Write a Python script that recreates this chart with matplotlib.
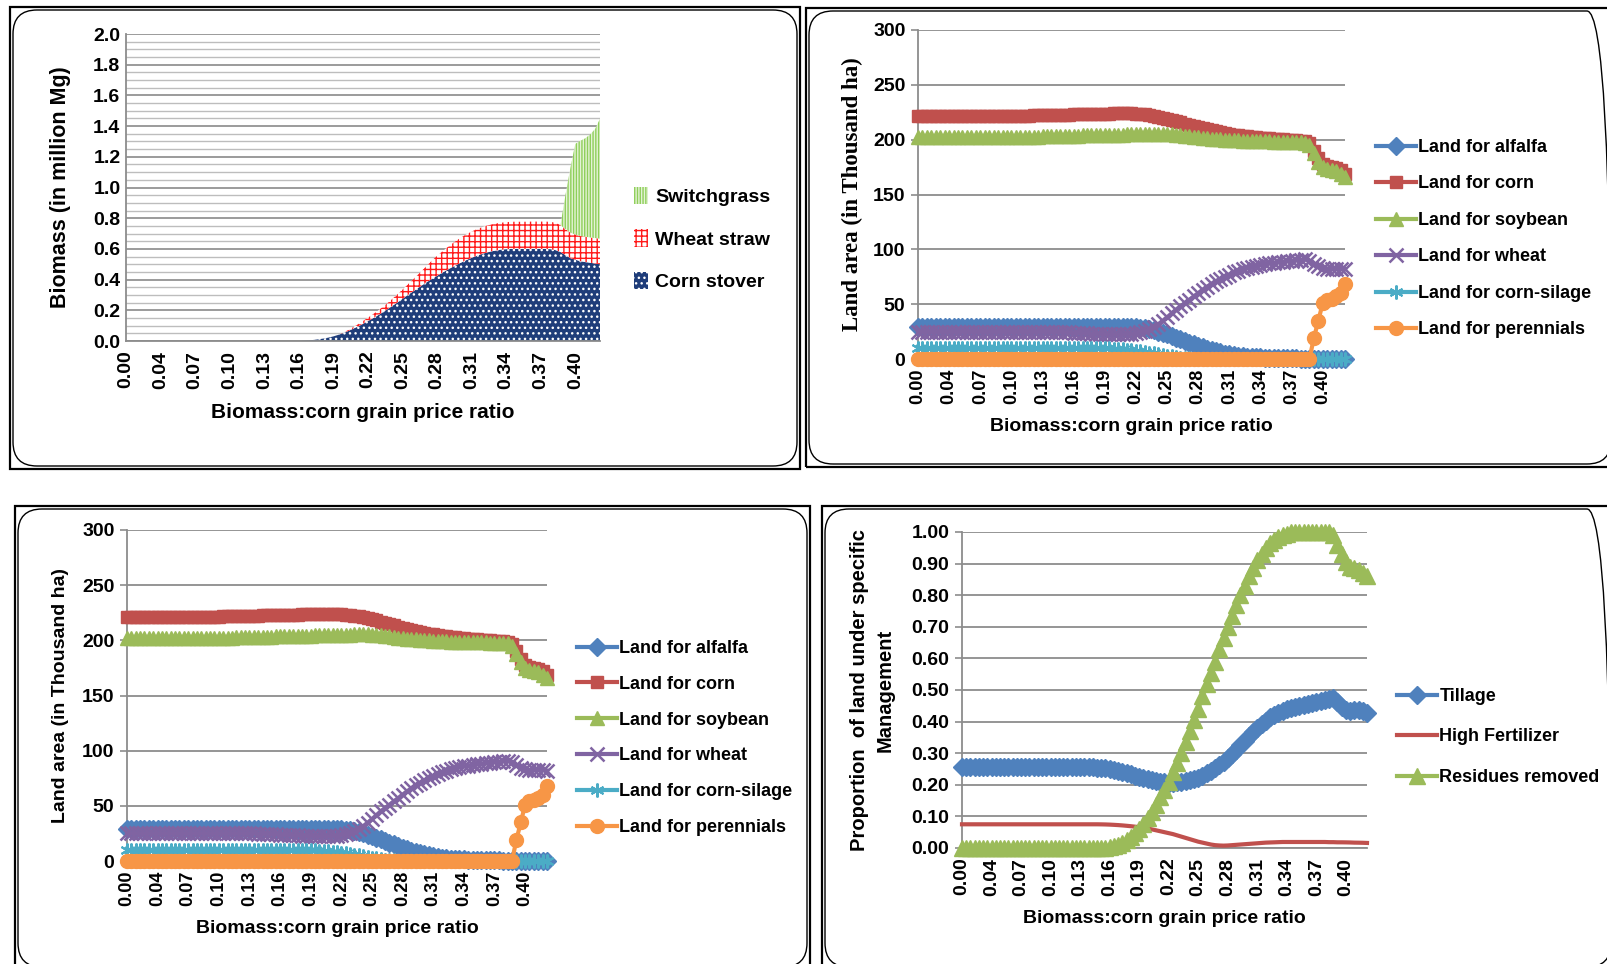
import numpy as np
import matplotlib
matplotlib.use("Agg")
import matplotlib.pyplot as plt
from matplotlib.patches import FancyBboxPatch, Rectangle
from matplotlib.transforms import IdentityTransform
from matplotlib import font_manager as fm

# ---------------- data ----------------
tick_labels = ["0.00", "0.04", "0.07", "0.10", "0.13", "0.16", "0.19",
               "0.22", "0.25", "0.28", "0.31", "0.34", "0.37", "0.40"]

# Panel 1: biomass (million Mg), stacked
corn_stover = [0.0] * 36 + [
    0.002, 0.004, 0.007, 0.011,
    0.016, 0.022, 0.030, 0.040, 0.052, 0.065, 0.080, 0.095, 0.112, 0.130,
    0.148, 0.167, 0.187, 0.208, 0.230, 0.252, 0.275, 0.298, 0.320, 0.342,
    0.364, 0.385, 0.405, 0.425, 0.444, 0.462, 0.480, 0.497, 0.513, 0.528,
    0.542, 0.555, 0.566, 0.576, 0.584, 0.590, 0.595, 0.598, 0.600, 0.600,
    0.600, 0.600, 0.600, 0.600, 0.600, 0.600, 0.598, 0.592, 0.580, 0.560,
    0.540, 0.530, 0.520, 0.515, 0.510, 0.505, 0.500]
wheat_straw = [0.0] * 44 + [
    0.003, 0.006, 0.010, 0.014, 0.018, 0.022,
    0.026, 0.030, 0.035, 0.040, 0.046, 0.053, 0.060, 0.068, 0.077, 0.086,
    0.096, 0.108, 0.120, 0.130, 0.138, 0.146, 0.153, 0.159, 0.164, 0.168,
    0.171, 0.173, 0.174, 0.175, 0.175, 0.176, 0.176, 0.176, 0.177, 0.177,
    0.177, 0.177, 0.178, 0.178, 0.178, 0.178, 0.178, 0.178, 0.175, 0.170,
    0.166, 0.164, 0.164, 0.165, 0.165, 0.166, 0.167]
switchgrass = [0.0] * 89 + [0.22, 0.42, 0.59, 0.62, 0.64, 0.67, 0.71, 0.78]

# Panels 2 & 3: land area (thousand ha)
land_alfalfa = [29.0] * 50 + [
    28.5, 28.0, 27.0, 26.0, 25.0, 24.0, 22.5, 21.0, 19.5, 18.0,
    16.5, 15.0, 13.5, 12.0, 10.5, 9.0, 8.0, 7.0, 6.0, 5.0,
    4.3, 3.7, 3.1, 2.6, 2.2, 1.9, 1.6, 1.4, 1.2, 1.0,
    0.9, 0.8, 0.7, 0.6, 0.5, 0.5, 0.4, 0.4, 0.3, 0.3,
    0.3, 0.3, 0.3, 0.3, 0.3, 0.3, 0.3]
land_corn = [221.5] * 20 + [
    221.5, 221.6, 221.7, 221.8, 221.9, 222.0, 222.1, 222.2, 222.3, 222.4,
    222.5, 222.6, 222.7, 222.8, 222.9, 223.0, 223.1, 223.2, 223.3, 223.4,
    223.5, 223.6, 223.7, 223.8, 223.9, 224.0, 224.0, 224.0, 223.9, 223.7,
    223.4, 223.0, 222.4, 221.7, 220.9, 220.0, 219.0, 218.0, 216.9, 215.8,
    214.7, 213.6, 212.5, 211.4, 210.4, 209.4, 208.5, 207.6, 206.8, 206.0,
    205.3, 204.7, 204.1, 203.6, 203.1, 202.7, 202.3, 201.9, 201.6, 201.3,
    201.0, 200.7, 200.4, 200.1, 199.8, 199.5, 199.2, 198.8, 197.0, 190.0,
    183.0, 178.0, 176.0, 175.0, 174.0, 172.0, 169.0]
land_soybean = [202.0] * 20 + [
    202.1, 202.2, 202.3, 202.4, 202.5, 202.6, 202.7, 202.8, 202.9, 203.0,
    203.1, 203.2, 203.3, 203.4, 203.5, 203.6, 203.7, 203.8, 203.9, 204.0,
    204.1, 204.2, 204.3, 204.4, 204.5, 204.6, 204.7, 204.8, 204.9, 205.0,
    205.1, 205.2, 205.3, 205.4, 205.4, 205.3, 205.1, 204.8, 204.4, 204.0,
    203.5, 203.0, 202.5, 202.0, 201.6, 201.2, 200.8, 200.5, 200.2, 199.9,
    199.7, 199.5, 199.3, 199.1, 198.9, 198.8, 198.7, 198.6, 198.5, 198.4,
    198.3, 198.2, 198.1, 198.0, 197.9, 197.8, 197.6, 197.3, 195.0, 188.0,
    180.0, 175.0, 173.0, 172.0, 171.0, 169.0, 166.0]
land_wheat = [25.0] * 30 + [
    24.9, 24.8, 24.6, 24.4, 24.2, 24.0, 23.8, 23.6, 23.4, 23.2,
    23.0, 22.8, 22.6, 22.5, 22.4, 22.4, 22.5, 22.7, 23.0, 23.5,
    24.3, 25.5, 27.0, 29.0, 31.5, 34.5, 38.0, 41.5, 45.0, 48.0,
    51.0, 54.0, 57.0, 60.0, 63.0, 66.0, 68.5, 71.0, 73.0, 75.0,
    77.0, 79.0, 80.5, 82.0, 83.0, 84.0, 85.0, 85.8, 86.5, 87.1,
    87.7, 88.2, 88.7, 89.2, 89.6, 90.0, 90.4, 90.8, 89.5, 87.0,
    84.5, 83.0, 82.5, 82.5, 82.5, 82.5, 82.0]
land_corn_silage = [10.0] * 40 + [
    10.0, 9.9, 9.8, 9.6, 9.4, 9.1, 8.8, 8.4, 8.0, 7.5,
    7.0, 6.4, 5.8, 5.1, 4.4, 3.7, 3.0, 2.4, 1.8, 1.3,
    0.9, 0.6, 0.4, 0.2, 0.1] + [0.0] * 32
land_perennials = [0.0] * 89 + [19.0, 35.0, 51.0, 54.0, 55.0, 57.0, 60.0, 68.0]

# Panel 4: proportion of land under management
tillage = [0.255] * 32 + [
    0.254, 0.253, 0.252, 0.250, 0.248, 0.245, 0.241, 0.237,
    0.233, 0.229, 0.225, 0.221, 0.217, 0.214, 0.211, 0.209, 0.208, 0.207,
    0.207, 0.208, 0.209, 0.211, 0.214, 0.218, 0.223, 0.229, 0.236, 0.244,
    0.252, 0.262, 0.273, 0.285, 0.298, 0.311, 0.325, 0.339, 0.353, 0.367,
    0.380, 0.392, 0.403, 0.413, 0.421, 0.428, 0.434, 0.439, 0.443, 0.446,
    0.449, 0.452, 0.455, 0.458, 0.461, 0.464, 0.468, 0.472, 0.476, 0.462,
    0.447, 0.437, 0.435, 0.438, 0.436, 0.432, 0.428]
high_fertilizer = [0.075] * 33 + [
    0.0748, 0.0745, 0.074, 0.0733, 0.0725, 0.0715, 0.0703,
    0.069, 0.0675, 0.066, 0.064, 0.062, 0.059, 0.056, 0.053, 0.050, 0.047,
    0.044, 0.040, 0.036, 0.032, 0.028, 0.024, 0.020, 0.017, 0.014, 0.011,
    0.009, 0.008, 0.0075, 0.008, 0.009, 0.010, 0.011, 0.012, 0.013, 0.014,
    0.015, 0.016, 0.017, 0.0175, 0.018, 0.0185, 0.019, 0.019, 0.019, 0.019,
    0.019, 0.019, 0.019, 0.019, 0.019, 0.019, 0.019, 0.0185, 0.0185, 0.018,
    0.018, 0.0178, 0.0175, 0.017, 0.0168, 0.0165, 0.016]
residues_removed = [0.0] * 35 + [
    0.002, 0.005, 0.010, 0.016, 0.024,
    0.034, 0.046, 0.060, 0.076, 0.094, 0.114, 0.136, 0.160, 0.185, 0.210,
    0.240, 0.270, 0.300, 0.335, 0.370, 0.405, 0.440, 0.480, 0.520, 0.555,
    0.590, 0.630, 0.665, 0.700, 0.735, 0.770, 0.800, 0.830, 0.860, 0.885,
    0.910, 0.930, 0.950, 0.965, 0.975, 0.985, 0.990, 0.995, 1.0, 1.0,
    1.0, 1.0, 1.0, 1.0, 1.0, 1.0, 1.0, 1.0, 0.990, 0.960,
    0.930, 0.905, 0.890, 0.885, 0.880, 0.870, 0.860]

# ---------------- fonts ----------------
names = {f.name for f in fm.fontManager.ttflist}
NARROW = "Liberation Sans Narrow" if "Liberation Sans Narrow" in names else "Liberation Sans"
ARIAL = "Liberation Sans"
SERIF = "Liberation Serif"

W, H = 1608, 964
fig = plt.figure(figsize=(W / 100, H / 100), dpi=100)
fig.patch.set_facecolor("white")


def axes_px(l, r, t, b):
    return fig.add_axes([l / W, 1 - b / H, (r - l) / W, (b - t) / H])


def frame(x0, y0, x1, y1):
    rect = Rectangle((x0, H - y1), x1 - x0, y1 - y0, transform=IdentityTransform(),
                     fill=False, lw=1.6, ec="black")
    rnd = FancyBboxPatch((x0 + 3, H - y1 + 3), x1 - x0 - 6, y1 - y0 - 6,
                         boxstyle="round,pad=0,rounding_size=24",
                         transform=IdentityTransform(), fill=False, lw=1.0, ec="black")
    fig.add_artist(rect)
    fig.add_artist(rnd)


frame(10, 7, 800, 469)
frame(806, 8, 1614, 467)
frame(15, 506, 810, 970)
frame(822, 506, 1614, 970)

GRID = "#8c8c8c"
tick_pos = [7 * k for k in range(len(tick_labels))]


def style_axes(ax, npts, xfs=13, yfs=14):
    ax.set_xlim(0, npts - 1)
    ax.set_xticks(tick_pos)
    ax.set_xticklabels(tick_labels, rotation=90, fontfamily=ARIAL,
                       fontweight="bold", fontsize=xfs)
    ax.tick_params(axis="x", length=0, pad=7)
    ax.tick_params(axis="y", length=5, color=GRID, width=1.2, pad=4)
    for lab in ax.get_yticklabels():
        lab.set_fontfamily(NARROW)
        lab.set_fontweight("bold")
        lab.set_fontsize(yfs)
    for s in ["top", "right"]:
        ax.spines[s].set_visible(False)
    for s in ["left", "bottom"]:
        ax.spines[s].set_color(GRID)
        ax.spines[s].set_linewidth(1.3)
    ax.set_axisbelow(True)


# ---------------- Panel 1 ----------------
ax1 = axes_px(126, 600, 34, 341)
x1 = np.arange(len(corn_stover))
s1 = np.array(corn_stover)
s2 = s1 + np.array(wheat_straw)
s3 = s2 + np.array(switchgrass)
plt.rcParams["hatch.linewidth"] = 1.0
h_st = ax1.fill_between(x1, 0, s1, facecolor="#1F3D7A", edgecolor="white",
                        hatch="...", lw=0, label="Corn stover")
h_ws = ax1.fill_between(x1, s1, s2, facecolor="white", edgecolor="#FF1A1A",
                        hatch="+++", lw=0, label="Wheat straw")
h_sg = ax1.fill_between(x1, s2, s3, facecolor="#E4F3D6", edgecolor="#8FCF5A",
                        hatch="||||||", lw=0, label="Switchgrass")
ax1.set_ylim(0, 2.0)
ax1.set_yticks(np.arange(0, 2.01, 0.2))
ax1.set_yticklabels([f"{v:.1f}" for v in np.arange(0, 2.01, 0.2)])
ax1.set_yticks(np.arange(0, 2.01, 0.05), minor=True)
ax1.tick_params(axis="y", which="minor", length=0)
ax1.grid(axis="y", which="major", color="#8a8a8a", lw=1.2)
ax1.grid(axis="y", which="minor", color="#bdbdbd", lw=1.0)
style_axes(ax1, len(corn_stover), xfs=14, yfs=14)
ax1.tick_params(axis="y", length=0)
ax1.set_ylabel("Biomass (in million Mg)", fontfamily=ARIAL, fontweight="bold",
               fontsize=15.5, labelpad=16)
ax1.set_xlabel("Biomass:corn grain price ratio", fontfamily=NARROW,
               fontweight="bold", fontsize=15, labelpad=10)
ax1.legend([h_sg, h_ws, h_st], ["Switchgrass", "Wheat straw", "Corn stover"],
           loc="upper left", bbox_to_anchor=(634 / W, 1 - 187 / H),
           bbox_transform=fig.transFigure, frameon=False,
           prop={"family": NARROW, "weight": "bold", "size": 14},
           handlelength=0.7, handleheight=1.0, handletextpad=0.4,
           labelspacing=1.18, borderpad=0, borderaxespad=0)

# ---------------- Panels 2 & 3 ----------------
land_series = [
    (land_alfalfa, "Land for alfalfa", "#4F81BD", "D", 9.0, 1.0),
    (land_corn, "Land for corn", "#C0504D", "s", 9.0, 1.0),
    (land_soybean, "Land for soybean", "#9BBB59", "^", 10.5, 1.0),
    (land_wheat, "Land for wheat", "#8064A2", "x", 9.5, 1.8),
    (land_corn_silage, "Land for corn-silage", "#4BACC6", (6, 2, 0), 10.0, 1.5),
    (land_perennials, "Land for perennials", "#F79646", "o", 10.0, 1.0),
]


def land_panel(ax, leg_anchor, spacing):
    xx = np.arange(len(land_corn))
    for vals, lab, col, mk, ms, mew in land_series:
        ax.plot(xx, vals, color=col, lw=3.0, marker=mk, ms=ms, mfc=col, mec=col,
                mew=mew, label=lab, clip_on=False, zorder=3)
    ax.set_ylim(0, 300)
    ax.set_yticks(np.arange(0, 301, 50))
    ax.grid(axis="y", color=GRID, lw=1.3)
    style_axes(ax, len(land_corn), xfs=13, yfs=14)
    ax.set_xlabel("Biomass:corn grain price ratio", fontfamily=NARROW,
                  fontweight="bold", fontsize=14, labelpad=10)
    ax.legend(loc="upper left", bbox_to_anchor=leg_anchor,
              bbox_transform=fig.transFigure, frameon=False,
              prop={"family": NARROW, "weight": "bold", "size": 13},
              handlelength=2.2, handletextpad=0.15, numpoints=1,
              labelspacing=spacing, borderpad=0, borderaxespad=0)


ax2 = axes_px(918, 1345, 30, 359)
land_panel(ax2, (1376 / W, 1 - 139 / H), 1.08)
ax2.set_ylabel("Land area (in Thousand ha)", fontfamily=SERIF, fontweight="bold",
               fontsize=16.5, labelpad=7)

ax3 = axes_px(127, 547, 530, 861)
land_panel(ax3, (577 / W, 1 - 640 / H), 1.04)
ax3.set_ylabel("Land area (in Thousand ha)", fontfamily=ARIAL, fontweight="bold",
               fontsize=14, labelpad=9)

# ---------------- Panel 4 ----------------
ax4 = axes_px(962, 1367, 532, 848)
x4 = np.arange(len(tillage))
ax4.plot(x4, tillage, color="#4F81BD", lw=3.0, marker="D", ms=9,
         label="Tillage", clip_on=False, zorder=3)
ax4.plot(x4, high_fertilizer, color="#C0504D", lw=3.0,
         label="High Fertilizer", clip_on=False, zorder=3)
ax4.plot(x4, residues_removed, color="#9BBB59", lw=3.0, marker="^", ms=12,
         label="Residues removed", clip_on=False, zorder=4)
ax4.set_ylim(0, 1.0)
ax4.set_yticks(np.arange(0, 1.001, 0.1))
ax4.set_yticklabels([f"{v:.2f}" for v in np.arange(0, 1.001, 0.1)])
ax4.grid(axis="y", color=GRID, lw=1.3)
style_axes(ax4, len(tillage), xfs=14, yfs=14)
ax4.set_ylabel("Proportion  of land under specific\nManagement", fontfamily=ARIAL,
               fontweight="bold", fontsize=14.5, labelpad=12, linespacing=1.45)
ax4.set_xlabel("Biomass:corn grain price ratio", fontfamily=NARROW,
               fontweight="bold", fontsize=14, labelpad=10)
ax4.legend(loc="upper left", bbox_to_anchor=(1397 / W, 1 - 688 / H),
           bbox_transform=fig.transFigure, frameon=False,
           prop={"family": NARROW, "weight": "bold", "size": 13},
           handlelength=2.2, handletextpad=0.15, numpoints=1,
           labelspacing=1.3, borderpad=0, borderaxespad=0)

fig.savefig("out.png", dpi=100, facecolor="white")
